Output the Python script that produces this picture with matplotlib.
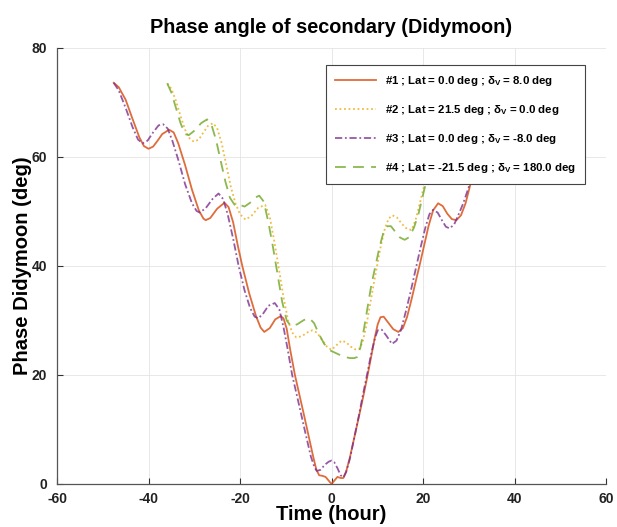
import matplotlib
matplotlib.use("Agg")
import matplotlib.pyplot as plt

plt.rcParams['font.family'] = ['Liberation Sans', 'DejaVu Sans']
plt.rcParams['mathtext.fontset'] = 'custom'
plt.rcParams['mathtext.rm'] = 'Liberation Sans:bold'
plt.rcParams['mathtext.bf'] = 'Liberation Sans:bold'
plt.rcParams['mathtext.it'] = 'Liberation Sans:bold'
plt.rcParams['axes.unicode_minus'] = False

# ---- data ----
t1 = [-47.6, -46.5, -45, -43.5, -42, -41, -40, -39, -38, -37, -35.5, -34.5, -33.5, -32, -30.5,
      -29, -28, -27.5, -26.5, -25, -23.4, -22.5, -21.5, -20.5, -19.5, -18, -16.5, -15.5, -14.7,
      -13.5, -12.3, -11.1, -10.5, -9.8, -9, -8.0, -7, -6, -5, -4, -3.3, -2.7, -2.0, -1.3, -0.6,
      0, 0.6, 1.3, 2.0, 2.6, 3.2, 4, 5, 6, 7, 7.8, 8.7, 9.5, 10.1, 10.7, 11.4, 12.4, 13.5, 14.6,
      15.6, 16.5, 17.5, 18.5, 19.3, 20.2, 21.2, 22.2, 23.3, 24.3, 25.3, 26.3, 27.3, 28.3, 29.3,
      30.3, 31.5, 32.8, 34, 35.5, 36.8, 38, 39.5, 41, 42.5, 44, 45.5, 47.6]
y1 = [73.6, 72.8, 70.5, 67, 63.6, 62, 61.5, 61.9, 63, 64.2, 65.0, 64.5, 62.5, 58.5, 54,
      50.2, 48.7, 48.4, 48.8, 50.5, 51.6, 50.8, 48, 43.8, 40, 35, 30.8, 28.7, 27.9,
      28.6, 30.2, 30.8, 30.4, 28.5, 24.5, 20, 16.3, 12.6, 8.8, 5.0, 2.6, 1.6, 1.5, 1.3, 0.6,
      0.0, 0.6, 1.3, 1.1, 1.1, 2.3, 4.8, 8.6, 12.4, 16.3, 19.6, 23.5, 27.0, 29.3, 30.6, 30.7, 29.6, 28.4, 27.9,
      28.6, 30.6, 33.9, 37.5, 40.3, 43.6, 47.3, 50.2, 51.5, 51.0, 49.6, 48.6, 48.4, 49.3, 51.5,
      54.8, 58.8, 62.5, 64.5, 65, 64, 62.5, 61.5, 62, 64.5, 68, 71, 73.6]

t2 = [-35.9, -35, -34, -33, -32, -31, -30.1, -29, -28, -27, -25.9, -25, -24, -23, -22, -21, -20,
      -18.8, -17.5, -16, -14.5, -13.5, -12.5, -11.5, -10.5, -9.5, -8.6, -7.7, -6.5, -5.3, -4.2,
      -3.2, -2.2, -1, 0, 1, 2.2, 3.2, 4.2, 5.2, 6, 6.8, 7.6, 8.4, 9.2, 10, 10.8, 11.7, 12.5, 13.3,
      14.3, 15.4, 16.5, 17.5, 18.4, 19.3, 20.4, 21.5, 22.8, 24, 25.5, 27, 28.5, 30, 31.5, 33,
      34.5, 36]
y2 = [73.5, 72.5, 70.3, 67.5, 65, 63.4, 62.8, 63.2, 64.5, 65.7, 66.2, 65.3, 62.5, 58.5, 54.5, 51.5, 49.5,
      48.5, 49.2, 50.7, 51.2, 49, 44.5, 39.5, 34.3, 30, 27.8, 26.9, 27.1, 27.8, 28.2,
      27.8, 26.6, 25.2, 24.6, 25.4, 26.3, 26.0, 25.2, 24.7, 24.7, 26, 29, 32.8, 36.6, 40.2, 43.8, 47, 48.7, 49.3,
      48.9, 47.7, 46.8, 46.6, 48.5, 51.5, 55.2, 59, 62.8, 65, 66, 65.2, 63.5, 63, 64.5, 67.5,
      71, 73.5]

t3 = [-47.6, -46.5, -45, -43.5, -42.3, -41.3, -40.2, -39, -37.8, -36.8, -35.8, -34.8, -33.5, -32,
      -30.5, -29.5, -28.8, -27.5, -26, -24.7, -23.7, -22.7, -21.5, -20.3, -19, -17.8, -16.8, -16,
      -15, -13.8, -12.4, -11.4, -10.5, -9.6, -8.6, -7.5, -6.5, -5.5, -4.5, -3.7, -3.2, -2.4, -1.5,
      -0.6, 0, 0.6, 1.3, 2, 2.6, 3.2, 4, 5, 6, 6.8, 7.8, 8.7, 9.5, 10.1, 11, 12, 13.2, 14.2, 15.2,
      16.2, 17.3, 18.5, 19.5, 20.5, 21.4, 22.2, 23.2, 24.2, 25.0, 25.8, 26.8, 27.8, 28.8, 30, 31,
      32.3, 33.8, 35, 36.5, 38, 39.5, 41, 42.5, 44, 45.5, 47.6]
y3 = [73.6, 72.2, 69, 65.5, 63.2, 62.5, 63, 64.5, 65.8, 66, 65.2, 63, 59.5, 55,
      51.5, 50.1, 49.8, 50.6, 52.3, 53.3, 52.3, 49.5, 45, 40, 35.5, 32.3, 30.7, 30.4,
      31.2, 32.7, 33.2, 32, 28.8, 24.8, 20, 16, 12.3, 8.6, 5.0, 3, 2.4, 2.6, 3.5,
      4.1, 4.3, 4.0, 2.9, 1.6, 1.2, 2.2, 4.6, 8.6, 12.6, 16.1, 20.2, 24, 26.8, 28.2, 28.3, 27.2, 25.7, 26.3, 28.3,
      31.5, 35.3, 39.8, 43.5, 47, 49.5, 50.3, 49.8, 48.3, 47.2, 46.9, 47.6, 49.5, 51.5, 54.5, 57.5,
      61.5, 64.5, 65.6, 65, 63, 62.4, 63.5, 66, 69, 71.8, 73.6]

t4 = [-35.9, -35, -34, -33, -32, -31.2, -30, -28.5, -27.2, -26.2, -25.2, -24.2, -23.2, -22.2, -21,
      -20, -19, -17.8, -16.8, -15.8, -14.8, -13.8, -12.8, -11.8, -10.8, -9.8, -8.8, -7.5, -6,
      -4.8, -3.8, -2.8, -1.6, -0.3, 1, 2, 3, 4, 5, 5.6, 6.3, 7, 7.8, 8.7, 9.6, 10.5, 11.3, 12.2,
      13, 14, 15, 16, 17, 18, 19, 19.9, 21, 22.2, 23.5, 25, 26.5, 28, 29.5, 31, 32.5, 34, 35.9]
y4 = [73.5, 71.8, 69, 66.2, 64.2, 64, 64.8, 66.2, 66.9, 65.8, 63, 59.2, 55.5, 52.5, 51,
      51.2, 50.9, 51.6, 52.5, 52.9, 51.8, 48, 43.5, 38.5, 33.5, 30, 28.9, 29.3, 30.1,
      30.4, 29.5, 27.6, 25.7, 24.5, 24.0, 23.6, 23.3, 23.1, 23.1, 23.3, 25, 28, 32, 36.5, 40, 43.5, 46, 47.3,
      47.3, 46.2, 45.2, 44.8, 45.3, 47, 49.5, 52.7, 56.5, 60.5, 63.5, 65.5, 66.5, 65.5, 64, 64.2, 66, 69, 73.5]

labels = [
    r"#1 ; Lat = 0.0 deg ; δ$_{\mathrm{V}}$ = 8.0 deg",
    r"#2 ; Lat = 21.5 deg ; δ$_{\mathrm{V}}$ = 0.0 deg",
    r"#3 ; Lat = 0.0 deg ; δ$_{\mathrm{V}}$ = -8.0 deg",
    r"#4 ; Lat = -21.5 deg ; δ$_{\mathrm{V}}$ = 180.0 deg",
]
xticks = [-60, -40, -20, 0, 20, 40, 60]
yticks = [0, 20, 40, 60, 80]

fig = plt.figure(figsize=(6.17, 5.27), dpi=100)
ax = fig.add_axes([0.0924, 0.0816, 0.8898, 0.8274])

ax.plot(t1, y1, color='#D95319', lw=1.3, ls='-', label=labels[0], alpha=0.85)
ax.plot(t2, y2, color='#EDB120', lw=1.3, ls=(0, (1, 1.5)), label=labels[1], alpha=0.85)
ax.plot(t3, y3, color='#7E2F8E', lw=1.3, ls=(0, (4, 1.5, 1, 1.5)), label=labels[2], alpha=0.8)
ax.plot(t4, y4, color='#77AC30', lw=1.3, ls=(0, (6, 4)), label=labels[3], alpha=0.85)

ax.set_xlim(-60, 60)
ax.set_ylim(0, 80)
ax.set_xticks(xticks)
ax.set_yticks(yticks)
ax.tick_params(direction='in', length=4, width=0.8, colors='#333333', labelsize=10,
               labelcolor='#222222')
ax.tick_params(axis='x', pad=6)
ax.tick_params(axis='y', pad=7)
for lab in ax.get_xticklabels() + ax.get_yticklabels():
    lab.set_fontweight('bold')
ax.grid(True, color='#e4e4e4', lw=0.6)
ax.set_axisbelow(True)
for s in ['top', 'right']:
    ax.spines[s].set_visible(False)
for s in ['left', 'bottom']:
    ax.spines[s].set_color('#555555')
    ax.spines[s].set_linewidth(0.9)

ax.set_xlabel('Time (hour)', fontsize=14.5, fontweight='bold', labelpad=-1)
ax.set_ylabel('Phase Didymoon (deg)', fontsize=14.5, fontweight='bold', labelpad=0)
ax.set_title('Phase angle of secondary (Didymoon)', fontsize=14.3, fontweight='bold', pad=11)

leg = ax.legend(loc='upper right', bbox_to_anchor=(585 / 617, 1 - 65 / 527),
                bbox_transform=fig.transFigure, borderaxespad=0, fancybox=False,
                framealpha=1, edgecolor='#444444', prop={'weight': 'bold', 'size': 8.2},
                handlelength=3.6, labelspacing=1.3, borderpad=0.8, handletextpad=0.8)
leg.get_frame().set_linewidth(0.8)

fig.savefig('out.png', dpi=100)
